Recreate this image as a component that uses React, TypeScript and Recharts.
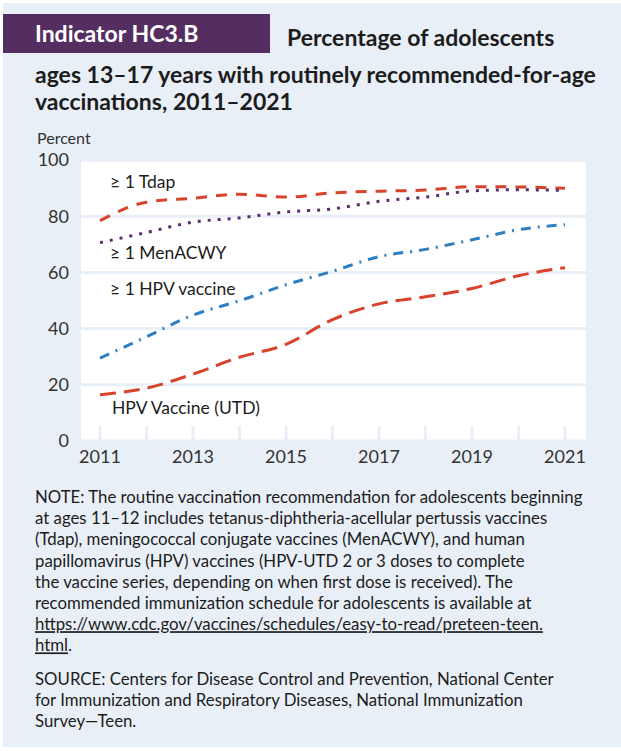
import React from 'react';
import { LineChart, Line, XAxis, YAxis, CartesianGrid } from 'recharts';

const years = [2011, 2012, 2013, 2014, 2015, 2016, 2017, 2018, 2019, 2020, 2021];
const tdap = [78.4, 85.0, 86.4, 87.8, 86.8, 88.3, 88.9, 89.3, 90.5, 90.4, 89.9];
const menacwy = [70.6, 74.2, 77.9, 79.4, 81.5, 82.6, 85.3, 86.8, 89.0, 89.4, 89.2];
const hpv1 = [29.5, 37.1, 44.8, 49.9, 55.6, 60.4, 65.6, 68.2, 71.6, 75.2, 77.0];
const hpvUtd = [16.5, 18.8, 23.8, 29.8, 34.4, 43.2, 48.8, 51.3, 54.3, 58.8, 61.7];

const yTicks = [0, 20, 40, 60, 80, 100];
const xLabelYears = [2011, 2013, 2015, 2017, 2019, 2021];

const seriesNames = ['≥ 1 Tdap', '≥ 1 MenACWY', '≥ 1 HPV vaccine', 'HPV Vaccine (UTD)'];

const titleBox = 'Indicator HC3.B';
const titleLines = [
  'Percentage of adolescents',
  'ages 13–17 years with routinely recommended-for-age',
  'vaccinations, 2011–2021',
];
const noteLines = [
  'NOTE: The routine vaccination recommendation for adolescents beginning',
  'at ages 11–12 includes tetanus-diphtheria-acellular pertussis vaccines',
  '(Tdap), meningococcal conjugate vaccines (MenACWY), and human',
  'papillomavirus (HPV) vaccines (HPV-UTD 2 or 3 doses to complete',
  'the vaccine series, depending on when first dose is received). The',
  'recommended immunization schedule for adolescents is available at',
];
const urlLine1 = 'https://www.cdc.gov/vaccines/schedules/easy-to-read/preteen-teen.';
const urlLine2 = 'html';
const sourceLines = [
  'SOURCE: Centers for Disease Control and Prevention, National Center',
  'for Immunization and Respiratory Diseases, National Immunization',
  'Survey—Teen.',
];

const data = years.map((y, i) => ({
  year: y,
  tdap: tdap[i],
  menacwy: menacwy[i],
  hpv1: hpv1[i],
  hpvUtd: hpvUtd[i],
}));

const BG = '#e8eff7';
const PURPLE = '#552e61';
const RED = '#d8432c';
const BLUE = '#2d7fc1';
const DOTS = '#5b2c6f';
const TEXT = '#1c1c1c';
const FONT = 'Lato, "Open Sans", sans-serif';

const XTick = (props: any) => {
  const { x, y, payload } = props;
  const v = payload.value;
  return (
    <g>
      <line x1={x} x2={x} y1={y - 1} y2={y - 15} stroke={BG} strokeWidth={3} />
      {xLabelYears.includes(v) && (
        <text x={x} y={y + 22} textAnchor="middle" fontSize={18} fill="#333" fontFamily={FONT}>
          {v}
        </text>
      )}
    </g>
  );
};

export default function App() {
  const noteY0 = 497;
  const lh = 21.2;
  const srcY0 = 679;
  return (
    <div style={{ position: 'absolute', left: 0, top: 0, width: 621, height: 751, background: '#fff', overflow: 'hidden' }}>
      <div style={{ position: 'absolute', left: 3, top: 3, width: 618, height: 744, background: BG }} />
      <div style={{ position: 'absolute', left: 0, top: 0 }}>
        <LineChart width={621} height={751} data={data} margin={{ top: 160, right: 35, bottom: 280, left: 0 }}>
          <CartesianGrid fill="#fff" vertical={false} stroke={BG} strokeWidth={3} />
          <XAxis
            dataKey="year"
            type="number"
            domain={[2011, 2021]}
            ticks={years}
            padding={{ left: 19, right: 21 }}
            height={30}
            axisLine={false}
            tickLine={false}
            tickSize={0}
            tickMargin={0}
            tick={<XTick />}
            interval={0}
          />
          <YAxis
            domain={[0, 100]}
            ticks={yTicks}
            width={81}
            axisLine={false}
            tickLine={false}
            tickSize={0}
            tickMargin={12}
            tick={{ fontSize: 18, fill: '#333', fontFamily: FONT }}
          />
          <Line type="monotone" dataKey="tdap" stroke={RED} strokeWidth={3} strokeDasharray="11 9" dot={false} isAnimationActive={false} />
          <Line type="monotone" dataKey="menacwy" stroke={DOTS} strokeWidth={3} strokeDasharray="3 7" dot={false} isAnimationActive={false} />
          <Line type="monotone" dataKey="hpv1" stroke={BLUE} strokeWidth={3} strokeDasharray="10 7 2 7" dot={false} isAnimationActive={false} />
          <Line type="monotone" dataKey="hpvUtd" stroke={RED} strokeWidth={3} strokeDasharray="16 8" dot={false} isAnimationActive={false} />
        </LineChart>
      </div>
      <svg width={621} height={751} style={{ position: 'absolute', left: 0, top: 0, pointerEvents: 'none' }} fontFamily={FONT}>
        <rect x={3} y={14} width={267} height={39} fill={PURPLE} />
        <text x={35} y={42} fontSize={23} fontWeight={700} fill="#fff">{titleBox}</text>
        <text x={287} y={46} fontSize={23} fontWeight={700} fill={TEXT}>{titleLines[0]}</text>
        <text x={35} y={83} fontSize={23} fontWeight={700} fill={TEXT}>{titleLines[1]}</text>
        <text x={35} y={110} fontSize={23} fontWeight={700} fill={TEXT}>{titleLines[2]}</text>
        <text x={37} y={144} fontSize={16} fill="#333">Percent</text>

        <text x={110} y={188} fontSize={17.5} fill={TEXT}>{seriesNames[0]}</text>
        <text x={110} y={259} fontSize={17.5} fill={TEXT}>{seriesNames[1]}</text>
        <text x={110} y={295} fontSize={17.5} fill={TEXT}>{seriesNames[2]}</text>
        <text x={112} y={414} fontSize={17.5} fill={TEXT}>{seriesNames[3]}</text>

        {noteLines.map((t, i) => (
          <text key={i} x={35} y={noteY0 + 6 + i * lh} fontSize={16.8} fill={TEXT}>{t}</text>
        ))}
        <text x={35} y={noteY0 + 6 + 6 * lh} fontSize={16.8} fill={TEXT} style={{ textDecoration: 'underline' }}>{urlLine1}</text>
        <text x={35} y={noteY0 + 6 + 7 * lh} fontSize={16.8} fill={TEXT}>
          <tspan style={{ textDecoration: 'underline' }}>{urlLine2}</tspan>
          <tspan>.</tspan>
        </text>
        {sourceLines.map((t, i) => (
          <text key={'s' + i} x={35} y={srcY0 + 6 + i * lh} fontSize={16.8} fill={TEXT}>{t}</text>
        ))}
      </svg>
    </div>
  );
}
